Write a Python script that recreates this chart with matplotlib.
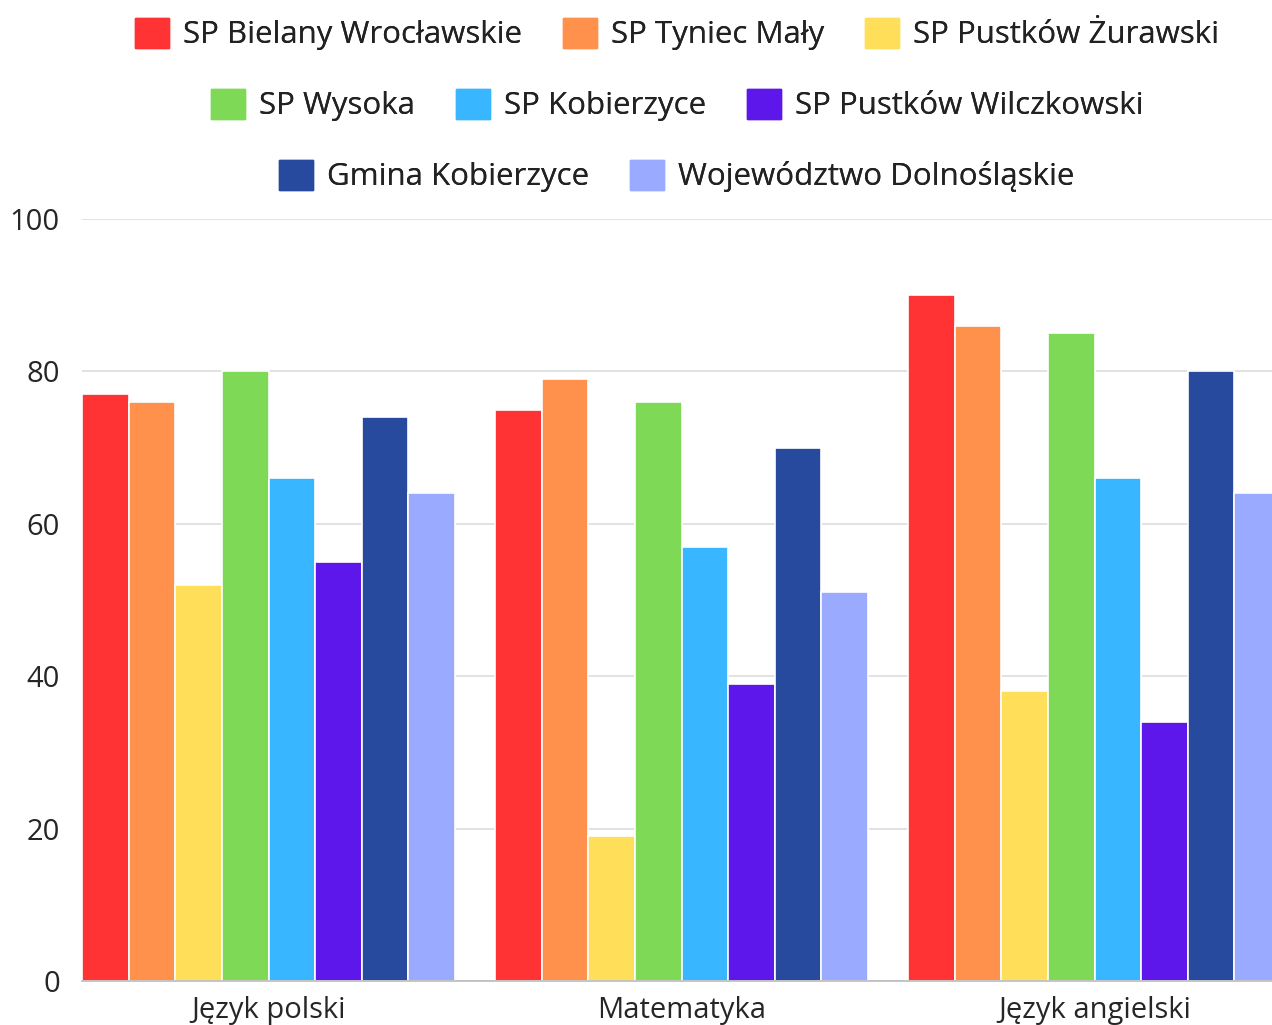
import matplotlib
matplotlib.use("Agg")
import matplotlib.pyplot as plt
import numpy as np
from matplotlib.patches import Patch

plt.rcParams['font.family'] = ['Open Sans', 'DejaVu Sans']

categories = ["Język polski", "Matematyka", "Język angielski"]
series = ["SP Bielany Wrocławskie", "SP Tyniec Mały", "SP Pustków Żurawski",
          "SP Wysoka", "SP Kobierzyce", "SP Pustków Wilczkowski",
          "Gmina Kobierzyce", "Województwo Dolnośląskie"]
bielany = [77, 75, 90]
tyniec = [76, 79, 86]
zurawski = [52, 19, 38]
wysoka = [80, 76, 85]
kobierzyce = [66, 57, 66]
wilczkowski = [55, 39, 34]
gmina = [74, 70, 80]
wojewodztwo = [64, 51, 64]
values = [bielany, tyniec, zurawski, wysoka, kobierzyce, wilczkowski, gmina, wojewodztwo]
colors = ["#FF3333", "#FF914D", "#FFDE59", "#7ED957", "#38B6FF", "#5E17EB", "#274A9E", "#9AAAFF"]
yticks = [0, 20, 40, 60, 80, 100]

W, H = 1272, 1025
fig = plt.figure(figsize=(W / 100, H / 100), dpi=100)
ax = fig.add_axes([82 / W, (H - 981) / H, 1190 / W, 762 / H])

n = len(series)
group_frac = 373 / 413
w = group_frac / n
x = np.arange(len(categories))
for i, (vals, c) in enumerate(zip(values, colors)):
    ax.bar(x + (i - (n - 1) / 2) * w, vals, width=w, color=c,
           edgecolor="white", linewidth=1.2, zorder=3)

ax.set_xlim(-n / 2 * w, 1190 / 413 - n / 2 * w)
ax.set_ylim(0, 100)
ax.set_yticks(yticks)
ax.set_xticks(x)
ax.set_xticklabels(categories)
ax.tick_params(axis='both', length=0, labelsize=21, colors="#262626")
ax.tick_params(axis='y', pad=16)
ax.tick_params(axis='x', pad=11)
ax.grid(axis='y', color="#DDDDDD", linewidth=1.2, zorder=0)
for s in ["top", "right", "left"]:
    ax.spines[s].set_visible(False)
ax.spines["bottom"].set_color("#BBBBBB")
ax.spines["bottom"].set_linewidth(1.2)
ax.spines["bottom"].set_zorder(4)

handles = [Patch(facecolor=c, edgecolor=c) for c in colors]
rows = [(0, 3), (3, 6), (6, 8)]
row_y = [34, 105, 176]
for (a, b), yy in zip(rows, row_y):
    leg = fig.legend(handles[a:b], series[a:b], loc="center",
                     bbox_to_anchor=(677 / W, 1 - yy / H), ncol=b - a,
                     frameon=False, fontsize=22.5, handlelength=1.09, handleheight=1.09,
                     handletextpad=0.45, columnspacing=1.31, borderaxespad=0,
                     labelcolor="#222222")
    fig.add_artist(leg)

fig.savefig("out.png", dpi=100)
